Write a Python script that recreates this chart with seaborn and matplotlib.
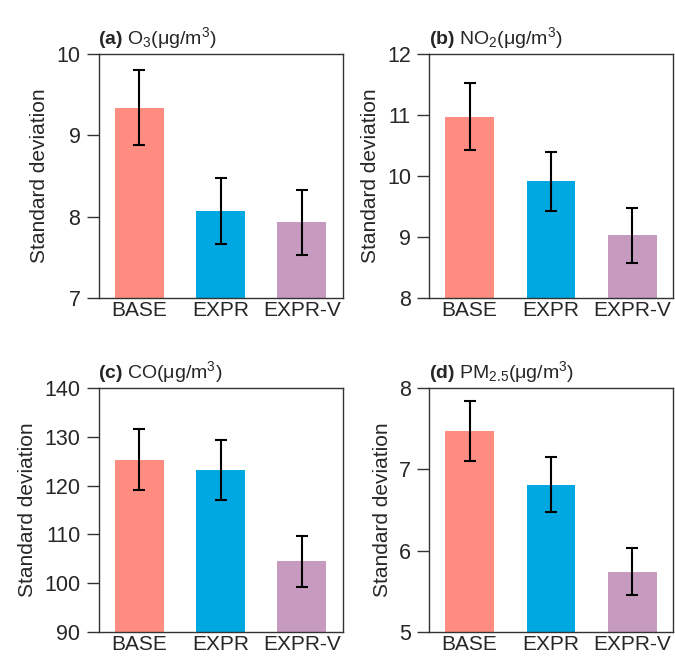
import matplotlib
matplotlib.use("Agg")
import matplotlib.pyplot as plt
import seaborn as sns
import pandas as pd

sns.set_style("ticks")
plt.rcParams['font.family'] = ['Liberation Sans', 'DejaVu Sans']
plt.rcParams['mathtext.fontset'] = 'custom'
plt.rcParams['mathtext.rm'] = 'Liberation Sans'
plt.rcParams['mathtext.it'] = 'Liberation Sans:italic'
plt.rcParams['mathtext.bf'] = 'Liberation Sans:bold'

categories = ["BASE", "EXPR", "EXPR-V"]
colors = ["#FF8C80", "#00A8E1", "#C79BC0"]

o3_values = [9.34, 8.07, 7.93]
o3_errors = [0.46, 0.40, 0.40]
no2_values = [10.97, 9.91, 9.03]
no2_errors = [0.55, 0.49, 0.45]
co_values = [125.3, 123.2, 104.5]
co_errors = [6.3, 6.2, 5.2]
pm25_values = [7.47, 6.81, 5.74]
pm25_errors = [0.37, 0.34, 0.29]

titles = [r"$\mathbf{(a)}$ O$_3$(μg/m$^3$)",
          r"$\mathbf{(b)}$ NO$_2$(μg/m$^3$)",
          r"$\mathbf{(c)}$ CO(μg/m$^3$)",
          r"$\mathbf{(d)}$ PM$_{2.5}$(μg/m$^3$)"]
ylims = [(7, 10), (8, 12), (90, 140), (5, 8)]
yticks = [[7, 8, 9, 10], [8, 9, 10, 11, 12], [90, 100, 110, 120, 130, 140], [5, 6, 7, 8]]
series = [(o3_values, o3_errors), (no2_values, no2_errors),
          (co_values, co_errors), (pm25_values, pm25_errors)]

fig = plt.figure(figsize=(6.75, 6.58), dpi=100)
W, H = 675, 658
boxes = [(98.5, 54, 342.5, 298), (429, 54, 673, 298),
         (98.5, 388, 342.5, 632), (429, 388, 673, 632)]

for (vals, errs), title, ylim, yt, (x0, y0, x1, y1) in zip(series, titles, ylims, yticks, boxes):
    ax = fig.add_axes([x0 / W, 1 - y1 / H, (x1 - x0) / W, (y1 - y0) / H])
    df = pd.DataFrame({"cat": categories, "val": vals, "err": errs})
    sns.barplot(data=df, x="cat", y="val", hue="cat", palette=colors, legend=False,
                width=0.6, ax=ax, errorbar=None, linewidth=0, saturation=1)
    ax.errorbar(x=range(len(categories)), y=df["val"], yerr=df["err"], fmt="none",
                ecolor="black", elinewidth=1.5, capsize=4, capthick=1.5)
    ax.set_xlim(-0.5, 2.5)
    ax.set_ylim(*ylim)
    ax.set_yticks(yt)
    ax.set_xlabel("")
    ax.set_ylabel("Standard deviation", fontsize=15, labelpad=5)
    ax.tick_params(axis="y", labelsize=15.5, length=9, width=1, color="#333333", pad=4)
    ax.tick_params(axis="x", labelsize=15, length=0, pad=2)
    for s in ax.spines.values():
        s.set_visible(True)
        s.set_linewidth(1)
        s.set_color("#333333")
    ax.set_title(title, loc="left", fontsize=14, pad=7)

fig.savefig("out.png", dpi=100)
